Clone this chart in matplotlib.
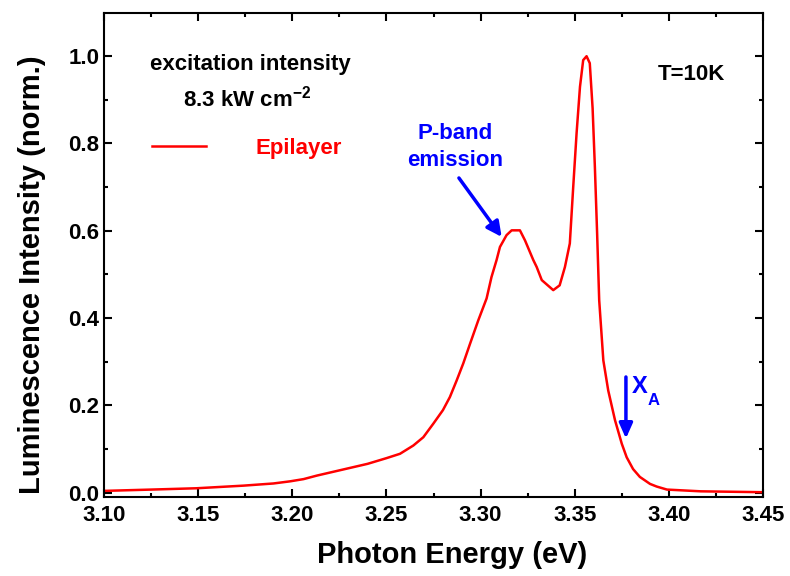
import matplotlib as mpl

mpl.use('Agg')
import matplotlib.pyplot as plt
from matplotlib.ticker import MultipleLocator

# spectrum
energy = [3.100, 3.125, 3.149, 3.174, 3.190, 3.199, 3.206, 3.213, 3.225,
          3.240, 3.250, 3.2572, 3.2643, 3.2696, 3.2749, 3.280, 3.2837,
          3.2873, 3.2908, 3.2944, 3.2988, 3.3032, 3.3058, 3.3085, 3.3103,
          3.3138, 3.3165, 3.3209, 3.3236, 3.328, 3.3298, 3.3325, 3.3386,
          3.342, 3.3448, 3.3474, 3.3492, 3.351, 3.3528, 3.3545, 3.3563,
          3.358, 3.3595, 3.3607, 3.3619, 3.363, 3.3652, 3.3678, 3.3714,
          3.375, 3.3776, 3.381, 3.3846, 3.390, 3.3935, 3.399, 3.417, 3.450]
intensity = [0.004, 0.007, 0.010, 0.016, 0.021, 0.026, 0.031, 0.039, 0.051,
             0.066, 0.079, 0.089, 0.108, 0.127, 0.158, 0.189, 0.219,
             0.257, 0.296, 0.341, 0.395, 0.445, 0.494, 0.533, 0.563,
             0.590, 0.601, 0.601, 0.578, 0.533, 0.517, 0.487, 0.464,
             0.475, 0.517, 0.571, 0.700, 0.824, 0.930, 0.991, 1.000,
             0.984, 0.881, 0.747, 0.594, 0.441, 0.303, 0.234, 0.166,
             0.112, 0.081, 0.054, 0.036, 0.020, 0.014, 0.007, 0.003, 0.001]

x_ticks = [3.10, 3.15, 3.20, 3.25, 3.30, 3.35, 3.40, 3.45]
y_ticks = [0.0, 0.2, 0.4, 0.6, 0.8, 1.0]

# annotation anchors (data units)
pband_text = (3.2864, 0.792)
pband_arrow = ((3.2885, 0.721), (3.3112, 0.586))
xa_arrow = ((3.3772, 0.265), (3.3772, 0.124))
xa_text = (3.3805, 0.243)
xa_sub = (3.3888, 0.210)

plt.rcParams['font.family'] = ['Liberation Sans', 'DejaVu Sans']
plt.rcParams['font.weight'] = 'bold'
plt.rcParams['mathtext.fontset'] = 'custom'
plt.rcParams['mathtext.rm'] = 'Liberation Sans:bold'
plt.rcParams['mathtext.it'] = 'Liberation Sans:bold'
plt.rcParams['mathtext.bf'] = 'Liberation Sans:bold'

red = '#ff0000'
blue = '#0000ff'

figure = plt.figure(figsize=(7.9, 5.76), dpi=100)
ax = figure.add_axes([104 / 790, 1 - 497 / 576, 659 / 790, 484 / 576])

ax.plot(energy, intensity, color=red, lw=1.8, label='Epilayer',
        solid_joinstyle='round')

# axes
ax.set_xlim(3.10, 3.45)
ax.set_ylim(-0.01, 1.099)
ax.set_xticks(x_ticks)
ax.set_xticklabels(['%.2f' % t for t in x_ticks])
ax.set_yticks(y_ticks)
ax.set_yticklabels(['%.1f' % t for t in y_ticks])
ax.xaxis.set_minor_locator(MultipleLocator(0.025))
ax.yaxis.set_minor_locator(MultipleLocator(0.1))
ax.tick_params(which='both', direction='in', top=True, right=True, width=1.5)
ax.tick_params(which='major', length=5.5, labelsize=16)
ax.tick_params(axis='x', which='major', pad=6)
ax.tick_params(which='minor', length=3)
for spine in ax.spines.values():
    spine.set_linewidth(1.5)

# labels
ax.set_xlabel('Photon Energy (eV)', fontsize=21, fontweight='bold')
ax.xaxis.set_label_coords(0.529, -0.09)
ax.set_ylabel('Luminescence Intensity (norm.)', fontsize=21, fontweight='bold')
ax.yaxis.set_label_coords(-0.088, 0.46)

# legend and notes
ax.legend(loc='center left', bbox_to_anchor=(0.0728, 0.72), frameon=False,
          fontsize=16, handlelength=2.45, handletextpad=2.2, borderpad=0,
          borderaxespad=0, labelcolor=red)
ax.text(3.1775, 0.980, 'excitation intensity', fontsize=16, ha='center',
        va='center')
ax.text(3.176, 0.904, '8.3 kW cm$^{-2}$', fontsize=16, ha='center',
        va='center')
ax.text(3.4122, 0.957, 'T=10K', fontsize=16, ha='center', va='center')
ax.text(pband_text[0], pband_text[1], 'P-band\nemission', fontsize=16,
        color=blue, ha='center', va='center', linespacing=1.35)
ax.annotate('', xy=pband_arrow[1], xytext=pband_arrow[0],
            arrowprops=dict(arrowstyle='-|>,head_length=0.9,head_width=0.45',
                            color=blue, lw=2.5, shrinkA=0, shrinkB=0))
ax.annotate('', xy=xa_arrow[1], xytext=xa_arrow[0],
            arrowprops=dict(arrowstyle='-|>,head_length=0.9,head_width=0.4',
                            color=blue, lw=2.5, shrinkA=0, shrinkB=0))
ax.text(xa_text[0], xa_text[1], 'X', fontsize=17, color=blue,
        ha='left', va='center')
ax.text(xa_sub[0], xa_sub[1], 'A', fontsize=12, color=blue,
        ha='left', va='center')

figure.savefig('out.png', dpi=100)
plt.close(figure)
